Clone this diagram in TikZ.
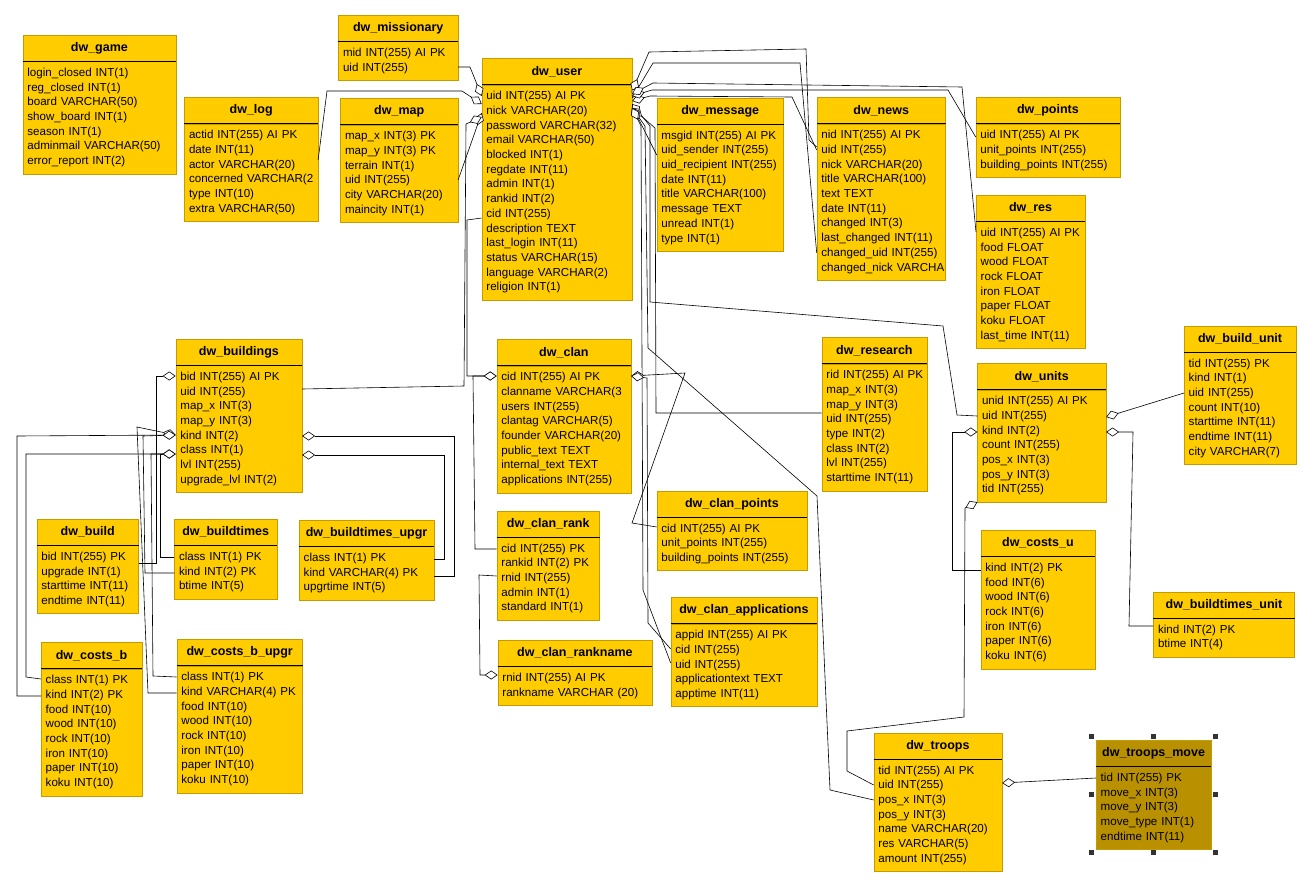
\documentclass[tikz,border=0pt]{standalone}
\usepackage{fontspec}
\setmainfont{Liberation Sans}
\usetikzlibrary{positioning,arrows.meta}
\definecolor{erfill}{RGB}{255,204,0}
\definecolor{erline}{RGB}{196,156,0}
\definecolor{ersel}{RGB}{184,144,0}

\begin{document}
\begin{tikzpicture}[x=1pt, y=-1pt,
    head/.style={draw=erline, fill=erfill, anchor=north west, minimum height=26pt, inner sep=0pt, font=\fontsize{12.5}{14}\selectfont\bfseries},
    body/.style={draw=erline, fill=erfill, inner xsep=4.5pt, inner ysep=4.6pt, align=left, font=\fontsize{11.6}{14.7}\selectfont, execute at begin node=\strut, execute at end node=\strut},
    rel/.style={line width=0.6pt, -{Diamond[fill=white, length=13pt, width=9pt]}},
    grip/.style={fill=black!80}]

    \useasboundingbox (0,0) rectangle (1312,886);

    % Top row
    \node[head, minimum width=153pt] (game) at (22.7,35) {dw\_game};
    \node[body, text width=144pt, below=0pt of game] (gameb) {login\_closed INT(1)\\reg\_closed INT(1)\\board VARCHAR(50)\\show\_board INT(1)\\season INT(1)\\adminmail VARCHAR(50)\\error\_report INT(2)};

    \node[head, minimum width=133.4pt] (log) at (184.3,97.3) {dw\_log};
    \node[body, text width=124.4pt, below=0pt of log] (logb) {actid INT(255) AI PK\\date INT(11)\\actor VARCHAR(20)\\concerned~VARCHAR(2\\type INT(10)\\extra VARCHAR(50)};

    \node[head, minimum width=119.4pt] (mission) at (338.3,15) {dw\_missionary};
    \node[body, text width=110.4pt, below=0pt of mission] (missionb) {mid INT(255) AI PK\\uid INT(255)};

    \node[head, minimum width=117.4pt] (map) at (340.3,98.3) {dw\_map};
    \node[body, text width=108.4pt, below=0pt of map] (mapb) {map\_x INT(3) PK\\map\_y INT(3) PK\\terrain INT(1)\\uid INT(255)\\city VARCHAR(20)\\maincity INT(1)};

    \node[head, minimum width=150pt] (user) at (481.7,58.3) {dw\_user};
    \node[body, text width=141pt, below=0pt of user] (userb) {uid INT(255) AI PK\\nick VARCHAR(20)\\password VARCHAR(32)\\email VARCHAR(50)\\blocked INT(1)\\regdate INT(11)\\admin INT(1)\\rankid INT(2)\\cid INT(255)\\description TEXT\\last\_login INT(11)\\status VARCHAR(15)\\language VARCHAR(2)\\religion INT(1)};

    \node[head, minimum width=126.6pt] (msg) at (656.7,97.7) {dw\_message};
    \node[body, text width=117.6pt, below=0pt of msg] (msgb) {msgid INT(255) AI PK\\uid\_sender INT(255)\\uid\_recipient INT(255)\\date INT(11)\\title VARCHAR(100)\\message TEXT\\unread INT(1)\\type INT(1)};

    \node[head, minimum width=128.6pt] (news) at (816.7,97.3) {dw\_news};
    \node[body, text width=119.6pt, below=0pt of news] (newsb) {nid INT(255) AI PK\\uid INT(255)\\nick VARCHAR(20)\\title VARCHAR(100)\\text TEXT\\date INT(11)\\changed INT(3)\\last\_changed INT(11)\\changed\_uid INT(255)\\changed\_nick~VARCHA};

    \node[head, minimum width=144pt] (points) at (975.7,97.3) {dw\_points};
    \node[body, text width=135pt, below=0pt of points] (pointsb) {uid INT(255) AI PK\\unit\_points INT(255)\\building\_points INT(255)};

    \node[head, minimum width=108.7pt] (res) at (976,195) {dw\_res};
    \node[body, text width=99.7pt, below=0pt of res] (resb) {uid INT(255) AI PK\\food FLOAT\\wood FLOAT\\rock FLOAT\\iron FLOAT\\paper FLOAT\\koku FLOAT\\last\_time INT(11)};

    % Units and troops
    \node[head, minimum width=111.7pt] (bunit) at (1184,325.7) {dw\_build\_unit};
    \node[body, text width=102.7pt, below=0pt of bunit] (bunitb) {tid INT(255) PK\\kind INT(1)\\uid INT(255)\\count INT(10)\\starttime INT(11)\\endtime INT(11)\\city VARCHAR(7)};

    \node[head, minimum width=128.4pt] (units) at (977.3,363.3) {dw\_units};
    \node[body, text width=119.4pt, below=0pt of units] (unitsb) {unid INT(255) AI PK\\uid INT(255)\\kind INT(2)\\count INT(255)\\pos\_x INT(3)\\pos\_y INT(3)\\tid INT(255)};

    \node[head, minimum width=114pt] (costsu) at (980.7,530) {dw\_costs\_u};
    \node[body, text width=105pt, below=0pt of costsu] (costsub) {kind INT(2) PK\\food INT(6)\\wood INT(6)\\rock INT(6)\\iron INT(6)\\paper INT(6)\\koku INT(6)};

    \node[head, minimum width=141pt] (btunit) at (1153.3,591.7) {dw\_buildtimes\_unit};
    \node[body, text width=132pt, below=0pt of btunit] (btunitb) {kind INT(2) PK\\btime INT(4)};

    \node[head, minimum width=128pt] (troops) at (873.7,732.7) {dw\_troops};
    \node[body, text width=119pt, below=0pt of troops] (troopsb) {tid INT(255) AI PK\\uid INT(255)\\pos\_x INT(3)\\pos\_y INT(3)\\name VARCHAR(20)\\res VARCHAR(5)\\amount INT(255)};

    \node[head, fill=ersel, minimum width=114.7pt] (tmove) at (1096,740) {dw\_troops\_move};
    \node[body, fill=ersel, text width=105.7pt, below=0pt of tmove] (tmoveb) {tid INT(255) PK\\move\_x INT(3)\\move\_y INT(3)\\move\_type INT(1)\\endtime INT(11)};

    % Buildings
    \node[head, minimum width=126pt] (bldg) at (175.7,339) {dw\_buildings};
    \node[body, text width=117pt, below=0pt of bldg] (bldgb) {bid INT(255) AI PK\\uid INT(255)\\map\_x INT(3)\\map\_y INT(3)\\kind INT(2)\\class INT(1)\\lvl INT(255)\\upgrade\_lvl INT(2)};

    \node[head, minimum width=101.6pt] (build) at (36.7,519) {dw\_build};
    \node[body, text width=92.6pt, below=0pt of build] (buildb) {bid INT(255) PK\\upgrade INT(1)\\starttime INT(11)\\endtime INT(11)};

    \node[head, minimum width=102.4pt] (btimes) at (174.3,519) {dw\_buildtimes};
    \node[body, text width=93.4pt, below=0pt of btimes] (btimesb) {class INT(1) PK\\kind INT(2) PK\\btime INT(5)};

    \node[head, minimum width=134.7pt] (btupgr) at (299,520) {dw\_buildtimes\_upgr};
    \node[body, text width=125.7pt, below=0pt of btupgr] (btupgrb) {class INT(1) PK\\kind VARCHAR(4) PK\\upgrtime INT(5)};

    \node[head, minimum width=100.7pt] (costsb) at (41,642.3) {dw\_costs\_b};
    \node[body, text width=91.7pt, below=0pt of costsb] (costsbb) {class INT(1) PK\\kind INT(2) PK\\food INT(10)\\wood INT(10)\\rock INT(10)\\iron INT(10)\\paper INT(10)\\koku INT(10)};

    \node[head, minimum width=125.6pt] (costsbu) at (176.7,639.3) {dw\_costs\_b\_upgr};
    \node[body, text width=116.6pt, below=0pt of costsbu] (costsbub) {class INT(1) PK\\kind VARCHAR(4) PK\\food INT(10)\\wood INT(10)\\rock INT(10)\\iron INT(10)\\paper INT(10)\\koku INT(10)};

    % Clans and research
    \node[head, minimum width=134pt] (clan) at (496.7,339.3) {dw\_clan};
    \node[body, text width=125pt, below=0pt of clan] (clanb) {cid INT(255) AI PK\\clanname~VARCHAR(3\\users INT(255)\\clantag VARCHAR(5)\\founder VARCHAR(20)\\public\_text TEXT\\internal\_text TEXT\\applications INT(255)};

    \node[head, minimum width=102.6pt] (crank) at (496.7,510.7) {dw\_clan\_rank};
    \node[body, text width=93.6pt, below=0pt of crank] (crankb) {cid INT(255) PK\\rankid INT(2) PK\\rnid INT(255)\\admin INT(1)\\standard INT(1)};

    \node[head, minimum width=154pt] (crname) at (497.7,640) {dw\_clan\_rankname};
    \node[body, text width=145pt, below=0pt of crname] (crnameb) {rnid INT(255) AI PK\\rankname VARCHAR (20)};

    \node[head, minimum width=150pt] (cpoints) at (656.7,490.7) {dw\_clan\_points};
    \node[body, text width=141pt, below=0pt of cpoints] (cpointsb) {cid INT(255) AI PK\\unit\_points INT(255)\\building\_points INT(255)};

    \node[head, minimum width=146pt] (capps) at (670.7,597.3) {dw\_clan\_applications};
    \node[body, text width=137pt, below=0pt of capps] (cappsb) {appid INT(255) AI PK\\cid INT(255)\\uid INT(255)\\applicationtext TEXT\\apptime INT(11)};

    \node[head, minimum width=105pt] (research) at (821.7,337.3) {dw\_research};
    \node[body, text width=96pt, below=0pt of research] (researchb) {rid~INT(255)~AI~PK\\map\_x INT(3)\\map\_y INT(3)\\uid INT(255)\\type INT(2)\\class INT(2)\\lvl INT(255)\\starttime INT(11)};

    \foreach \t in {game,log,mission,map,user,msg,news,points,res,bunit,units,costsu,btunit,troops,tmove,bldg,build,btimes,btupgr,costsb,costsbu,clan,crank,crname,cpoints,capps,research}
        \draw[line width=0.8pt] (\t.south west) -- (\t.south east);

    % Relations into dw_user
    \draw[rel] (missionb.east |- 0,67) -- (470,67) -- (userb.west |- 0,96);
    \draw[rel] (logb.east |- 0,160) -- (327,91) -- (462,91) -- (userb.west |- 0,104);
    \draw[rel] (mapb.east |- 0,180) -- (userb.west |- 0,113);
    \draw[rel] (bldgb.east |- 0,389) -- (464,386) -- (466,124) -- (userb.west |- 0,117);

    \draw[rel] (newsb.west |- 0,147) -- (809,140) -- (806,49) -- (649,52) -- (userb.east |- 0,91);
    \draw[rel] (newsb.west |- 0,253) -- (800,63) -- (653,63) -- (userb.east |- 0,98);
    \draw[rel] (newsb.west |- 0,150) -- (792,97) -- (650,96) -- (userb.east |- 0,101);
    \draw[rel] (msgb.west |- 0,155) -- (userb.east |- 0,106);
    \draw[rel] (pointsb.west |- 0,137) -- (948,90) -- (652,90) -- (userb.east |- 0,96);
    \draw[rel] (resb.west |- 0,232) -- (962,87) -- (653,83) -- (userb.east |- 0,94);
    \draw[rel] (unitsb.west |- 0,416) -- (957,415) -- (943,326) -- (650,302) -- (650,126) -- (userb.east |- 0,104);
    \draw[rel] (researchb.west |- 0,413) -- (656,413) -- (655,128) -- (userb.east |- 0,108);
    \draw[rel] (troopsb.west |- 0,800) -- (830,790) -- (817,496) -- (648,348) -- (645,126) -- (userb.east |- 0,108);
    \draw[rel] (cappsb.west |- 0,663) -- (643,590) -- (641,126) -- (userb.east |- 0,108);

    % Clans
    \draw[rel] (userb.west |- 0,218) -- (467,220) -- (467,376) -- (clanb.west |- 0,376);
    \draw[rel] (crankb.west |- 0,549) -- (475,549) -- (473,376) -- (clanb.west |- 0,376);
    \draw[rel] (crankb.west |- 0,576) -- (479,575) -- (480,675) -- (crnameb.west |- 0,675);
    \draw[rel] (cpointsb.west |- 0,527) -- (632,523) -- (685,373) -- (clanb.east |- 0,376);
    \draw[rel] (cappsb.west |- 0,649) -- (648,623) -- (647,378) -- (clanb.east |- 0,376);

    % Units and troops
    \draw[rel] (costsub.west |- 0,570) -- (952,570) -- (952,432) -- (unitsb.west |- 0,432);
    \draw[rel] (troopsb.west |- 0,785) -- (847,771) -- (847,731) -- (964,717) -- (965,508) -- (unitsb.south west);
    \draw[rel] (bunitb.west |- 0,393) -- (unitsb.east |- 0,417);
    \draw[rel] (btunitb.west |- 0,626) -- (1129,626) -- (1133,432) -- (unitsb.east |- 0,432);
    \draw[rel] (tmoveb.west |- 0,778) -- (troopsb.east |- 0,783);

    % Buildings
    \draw[rel] (buildb.east |- 0,563) -- (156,563) -- (156,376) -- (bldgb.west |- 0,376);
    \draw[rel] (costsbb.west |- 0,696) -- (17,696) -- (17,436) -- (bldgb.west |- 0,435);
    \draw[rel] (costsbub.west |- 0,693) -- (148,693) -- (137,427) -- (bldgb.west |- 0,435);
    \draw[rel] (btimesb.west |- 0,573) -- (145,573) -- (143,436) -- (bldgb.west |- 0,435);
    \draw[rel] (costsbb.west |- 0,679) -- (26,677) -- (26,454) -- (bldgb.west |- 0,454);
    \draw[rel] (costsbub.west |- 0,677) -- (153,676) -- (151,454) -- (bldgb.west |- 0,454);
    \draw[rel] (btimesb.west |- 0,557) -- (160,557) -- (160,454) -- (bldgb.west |- 0,454);
    \draw[rel] (btupgrb.east |- 0,559) -- (444,559) -- (444,455) -- (bldgb.east |- 0,455);
    \draw[rel] (btupgrb.east |- 0,576) -- (454,576) -- (454,436) -- (bldgb.east |- 0,436);

    % Selection grips round dw_troops_move
    \foreach \x/\y in {1091.7/736.7, 1153.7/736.7, 1215.7/736.7, 1091.7/794.3, 1215.7/794.3, 1091.7/852, 1153.7/852, 1215.7/852}
        \fill[grip] (\x-2.5,\y-2.5) rectangle ++(5,5);

\end{tikzpicture}
\end{document}
